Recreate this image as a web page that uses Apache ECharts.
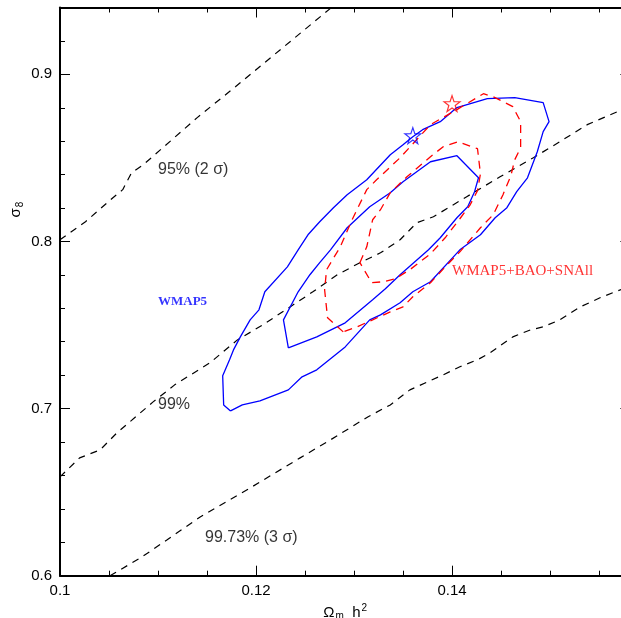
<!DOCTYPE html>
<html>
<head>
<meta charset="utf-8">
<script src="https://cdn.jsdelivr.net/npm/echarts@6/dist/echarts.min.js"></script>
<style>html,body{margin:0;padding:0;background:#fff}#c{width:621px;height:618px}</style>
</head>
<body>
<div id="c"></div>
<script>
// ---- data (Omega_m h^2 , sigma_8) ----
const blueOuterX = [0.1174,0.1167,0.1166,0.1173,0.1177,0.1184,0.1194,0.1203,0.1209,0.1232,0.1243,0.1253,0.1265,0.1279,0.1293,0.1313,0.1337,0.1350,0.1360,0.1370,0.1388,0.1405,0.1436,0.1464,0.1493,0.1499,0.1493,0.1487,0.1477,0.1466,0.1456,0.1444,0.1429,0.1408,0.1378,0.1360,0.1347,0.1327,0.1316,0.1291,0.1262,0.1247,0.1233,0.1204,0.1186,0.1174];
const blueOuterY = [0.6986,0.7022,0.7196,0.7292,0.7351,0.7429,0.7531,0.7591,0.7699,0.7848,0.7950,0.8040,0.8118,0.8202,0.8280,0.8369,0.8519,0.8579,0.8627,0.8669,0.8717,0.8801,0.8855,0.8861,0.8831,0.8717,0.8657,0.8537,0.8381,0.8298,0.8202,0.8142,0.8040,0.7950,0.7759,0.7699,0.7633,0.7561,0.7531,0.7369,0.7232,0.7190,0.7112,0.7046,0.7022,0.6986];
const blueInnerX = [0.1233,0.1228,0.1243,0.1255,0.1265,0.1276,0.1293,0.1316,0.1337,0.1350,0.1378,0.1405,0.1427,0.1423,0.1416,0.1405,0.1388,0.1376,0.1347,0.1332,0.1319,0.1291,0.1262,0.1233];
const blueInnerY = [0.7363,0.7531,0.7699,0.7801,0.7873,0.7950,0.8082,0.8208,0.8292,0.8357,0.8477,0.8513,0.8381,0.8298,0.8208,0.8142,0.8022,0.7950,0.7801,0.7717,0.7651,0.7513,0.7429,0.7363];
const redOuterX = [0.1289,0.1281,0.1273,0.1270,0.1272,0.1286,0.1298,0.1313,0.1323,0.1347,0.1378,0.1405,0.1432,0.1442,0.1462,0.1470,0.1470,0.1464,0.1460,0.1452,0.1442,0.1429,0.1408,0.1395,0.1378,0.1360,0.1350,0.1337,0.1319,0.1303,0.1289];
const redOuterY = [0.7459,0.7501,0.7543,0.7711,0.7831,0.7968,0.8130,0.8310,0.8369,0.8501,0.8699,0.8789,0.8884,0.8866,0.8807,0.8717,0.8561,0.8489,0.8393,0.8280,0.8160,0.8082,0.7938,0.7860,0.7753,0.7669,0.7609,0.7579,0.7531,0.7489,0.7459];
const redInnerX = [0.1306,0.1313,0.1319,0.1327,0.1337,0.1354,0.1378,0.1391,0.1406,0.1426,0.1429,0.1426,0.1418,0.1408,0.1393,0.1378,0.1357,0.1342,0.1330,0.1318,0.1306];
const redInnerY = [0.7873,0.7968,0.8130,0.8190,0.8292,0.8387,0.8507,0.8567,0.8597,0.8555,0.8405,0.8304,0.8214,0.8136,0.8022,0.7926,0.7831,0.7777,0.7759,0.7753,0.7873];
const line95X = [0.1000,0.1026,0.1054,0.1064,0.1073,0.1085,0.1140,0.1179,0.1277];
const line95Y = [0.8010,0.8118,0.8262,0.8310,0.8411,0.8459,0.8741,0.8926,0.9400];
const line99X = [0.1000,0.1020,0.1041,0.1058,0.1095,0.1117,0.1153,0.1181,0.1207,0.1238,0.1258,0.1283,0.1306,0.1327,0.1347,0.1364,0.1381,0.1415,0.1449,0.1483,0.1510,0.1538,0.1574];
const line99Y = [0.6591,0.6705,0.6753,0.6854,0.7040,0.7142,0.7274,0.7411,0.7501,0.7621,0.7699,0.7801,0.7873,0.7932,0.8010,0.8112,0.8148,0.8268,0.8387,0.8501,0.8597,0.8699,0.8790];
const line3sX = [0.1051,0.1082,0.1109,0.1143,0.1194,0.1245,0.1276,0.1314,0.1337,0.1357,0.1391,0.1408,0.1426,0.1439,0.1462,0.1480,0.1493,0.1510,0.1531,0.1551,0.1574];
const line3sY = [0.6000,0.6106,0.6214,0.6351,0.6525,0.6705,0.6813,0.6950,0.7022,0.7112,0.7202,0.7250,0.7292,0.7334,0.7429,0.7471,0.7489,0.7531,0.7609,0.7663,0.7716];
const bestWMAP5 = [0.1360, 0.8633];
const bestCombined = [0.1400, 0.8825];
const xTicks = [0.1, 0.12, 0.14];
const yTicks = [0.6, 0.7, 0.8, 0.9];
const textLabels = [
  {text: '95% (2 σ)', x: 0.1100, y: 0.8429, kind: 'black'},
  {text: '99%', x: 0.1100, y: 0.7022, kind: 'black'},
  {text: '99.73% (3 σ)', x: 0.1148, y: 0.6226, kind: 'black'},
  {text: 'WMAP5', x: 0.1100, y: 0.7639, kind: 'blue'},
  {text: 'WMAP5+BAO+SNAll', x: 0.1400, y: 0.7825, kind: 'red'}
];
const yTitlePos = 0.819;

const zip = (xs, ys) => xs.map((v, i) => [v, ys[i]]);
const XMIN = 0.1, XMAX = 0.1582, YMIN = 0.6, YMAX = 0.94;
const isTick = (v, arr) => arr.some(t => Math.abs(t - v) < 1e-9);

const starPath = 'path://M0,-10 L2.35,-3.24 L9.51,-3.09 L3.8,1.24 L5.88,8.09 L0,4 L-5.88,8.09 L-3.8,1.24 L-9.51,-3.09 L-2.35,-3.24 Z';

function lineSeries(name, xs, ys, color, type, width) {
  return {
    name, type: 'line', data: zip(xs, ys), showSymbol: false, symbol: 'none',
    lineStyle: {color, width, type}, animation: false, silent: true, z: 3
  };
}

const baseAxis = {
  axisLine: {show: true, onZero: false, lineStyle: {color: '#000', width: 2}},
  axisTick: {show: true, inside: true, length: 10, lineStyle: {color: '#000', width: 1}},
  minorTick: {show: true, length: 5, lineStyle: {color: '#000', width: 1}},
  splitLine: {show: false}, minorSplitLine: {show: false}
};

const labelStyles = {
  black: {color: '#000', fontFamily: 'Liberation Sans', fontSize: 16},
  blue: {color: '#0000ff', fontFamily: 'Liberation Serif', fontSize: 13, fontWeight: 'bold'},
  red: {color: '#ff0000', fontFamily: 'Liberation Serif', fontSize: 15}
};

const chart = echarts.init(document.getElementById('c'), null, {renderer: 'canvas'});
chart.setOption({
  animation: false,
  backgroundColor: '#fff',
  grid: {left: 60, right: -9.4, top: 7.5, bottom: 42.3, containLabel: false, outerBoundsMode: 'none'},
  xAxis: [
    Object.assign({}, baseAxis, {
      type: 'value', position: 'bottom', min: XMIN, max: XMAX, interval: 0.02,
      minorTick: Object.assign({}, baseAxis.minorTick, {splitNumber: 4}),
      axisLabel: {show: true, margin: 8, color: '#000', fontFamily: 'Liberation Sans', fontSize: 15,
        formatter: v => isTick(v, xTicks) ? String(+v.toFixed(3)) : ''},
      name: '{a|Ω}{s|m}{a|  h}{p|2}', nameLocation: 'middle', nameGap: 25,
      nameTextStyle: {padding: [0, 0, 0, 0], rich: {
        a: {fontFamily: 'Liberation Sans', fontSize: 15, color: '#000'},
        s: {fontFamily: 'Liberation Sans', fontSize: 10, color: '#000', verticalAlign: 'bottom', padding: [8, 0, 0, 1]},
        p: {fontFamily: 'Liberation Sans', fontSize: 10, color: '#000', verticalAlign: 'top', padding: [0, 0, 6, 1]}
      }}
    }),
    Object.assign({}, baseAxis, {
      type: 'value', position: 'top', min: XMIN, max: XMAX, interval: 0.02,
      minorTick: Object.assign({}, baseAxis.minorTick, {splitNumber: 4}),
      axisLabel: {show: false}
    })
  ],
  yAxis: [
    Object.assign({}, baseAxis, {
      type: 'value', position: 'left', min: YMIN, max: YMAX, interval: 0.1,
      minorTick: Object.assign({}, baseAxis.minorTick, {splitNumber: 5}),
      axisLabel: {show: true, margin: 8, color: '#000', fontFamily: 'Liberation Sans', fontSize: 15,
        formatter: v => isTick(v, yTicks) ? String(+v.toFixed(2)) : ''}
    }),
    Object.assign({}, baseAxis, {
      type: 'value', position: 'right', min: YMIN, max: YMAX, interval: 0.1,
      minorTick: Object.assign({}, baseAxis.minorTick, {splitNumber: 5}),
      axisLabel: {show: false}
    })
  ],
  series: [
    lineSeries('95%', line95X, line95Y, '#000', [7, 6], 1.2),
    lineSeries('99%', line99X, line99Y, '#000', [7, 6], 1.2),
    lineSeries('99.73%', line3sX, line3sY, '#000', [7, 6], 1.2),
    lineSeries('WMAP5 outer', blueOuterX, blueOuterY, '#0000ff', 'solid', 1.3),
    lineSeries('WMAP5 inner', blueInnerX, blueInnerY, '#0000ff', 'solid', 1.3),
    lineSeries('Comb outer', redOuterX, redOuterY, '#ff0000', [8, 6], 1.3),
    lineSeries('Comb inner', redInnerX, redInnerY, '#ff0000', [8, 6], 1.3),
    {
      type: 'scatter', data: [bestWMAP5], symbol: starPath, symbolSize: 16, z: 5,
      itemStyle: {color: 'rgba(0,0,0,0)', borderColor: '#0000ff', borderWidth: 1.2}, silent: true
    },
    {
      type: 'scatter', data: [bestCombined], symbol: starPath, symbolSize: 16, z: 5,
      itemStyle: {color: 'rgba(0,0,0,0)', borderColor: '#ff0000', borderWidth: 1.2}, silent: true
    },
    {
      type: 'scatter', symbolSize: 0, silent: true, z: 6,
      data: textLabels.map(l => ({
        value: [l.x, l.y],
        label: Object.assign({show: true, position: 'right', distance: 0, formatter: l.text}, labelStyles[l.kind])
      }))
    }
  ]
});
const yTitlePix = chart.convertToPixel({yAxisIndex: 0}, yTitlePos);
chart.setOption({
  graphic: [{
    type: 'text', x: 16, y: yTitlePix, rotation: Math.PI / 2, silent: true,
    style: {
      text: '{a|σ}{s|8}', align: 'center', verticalAlign: 'middle',
      rich: {
        a: {fontFamily: 'Liberation Sans', fontSize: 15, fill: '#000', color: '#000'},
        s: {fontFamily: 'Liberation Sans', fontSize: 10, fill: '#000', color: '#000', verticalAlign: 'bottom', padding: [8, 0, 0, 1]}
      }
    }
  }]
});
</script>
</body>
</html>
